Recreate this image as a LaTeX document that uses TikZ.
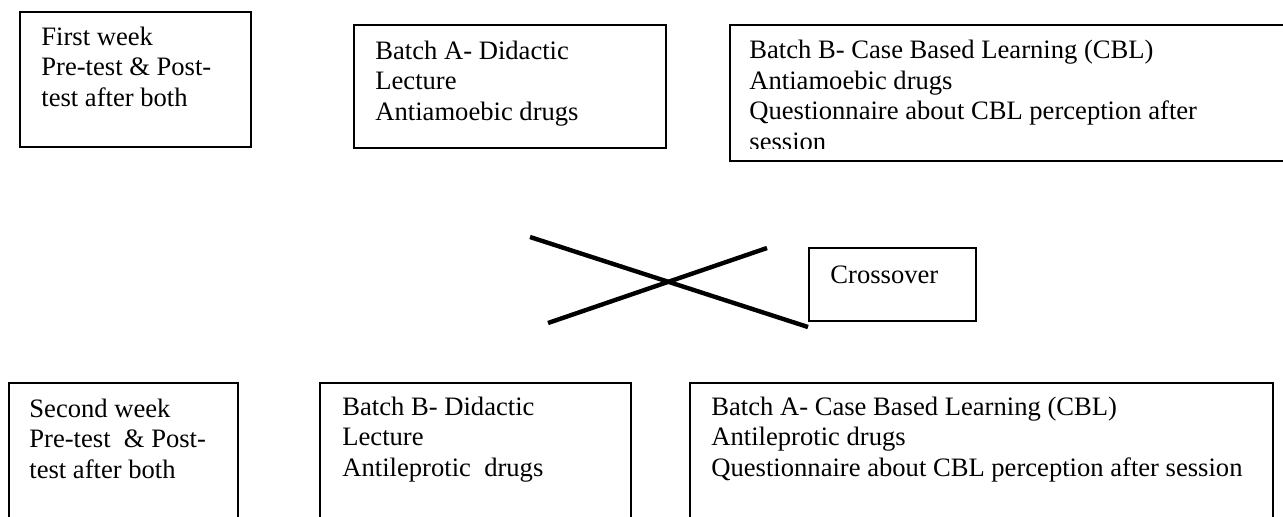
\documentclass[tikz,border=0pt]{standalone}
\usepackage{fontspec}
\setmainfont{Liberation Serif}
\begin{document}
\begin{tikzpicture}[x=0.5pt,y=-0.5pt,
	box/.style={draw,line width=1.2pt},
	thinbox/.style={draw,line width=0.8pt},
	crossline/.style={line width=2.2pt},
	txt/.style={anchor=base west,align=left,inner sep=0pt,font=\fontsize{13.3}{15.2}\selectfont}]
		\useasboundingbox (0,0) rectangle (1283,516);
		\clip (0,0) rectangle (1283,516);

		% first week (text nodes sit on their last line)
		\draw[box] (20,12) rectangle (251,147);
		\draw[box] (354,25) rectangle (666,148);
		\draw[box] (730,25) rectangle (1300,161);

		\node[txt] (wa) at (41,106) {First week\\Pre-test \& Post-\\test after both};
		\node[txt] (da) at (375,120) {Batch A- Didactic\\Lecture\\Antiamoebic drugs};
		\begin{scope}
			\clip (730,25) rectangle (1300,148);
			\node[txt] (cb) at (749,150) {Batch B- Case Based Learning (CBL)\\Antiamoebic drugs\\Questionnaire about CBL perception after\\session};
		\end{scope}

		% crossover
		\coordinate (x1) at (530,237);
		\coordinate (x2) at (808,327);
		\coordinate (x3) at (548,323);
		\coordinate (x4) at (767,248);
		\draw[crossline] (x1) -- (x2);
		\draw[crossline] (x3) -- (x4);

		\draw[thinbox] (809,248) rectangle (976,321);
		\node[txt] (co) at (830,283) {Crossover};

		% second week
		\draw[box] (9,383) rectangle (238,540);
		\draw[box] (320,383) rectangle (631,540);
		\draw[box] (690,383) rectangle (1273,540);

		\node[txt] (wb) at (29,478) {Second week\\Pre-test\ \ \& Post-\\test after both};
		\node[txt] (db) at (342,476) {Batch B- Didactic\\Lecture\\Antileprotic\ \ drugs};
		\node[txt] (ca) at (711,476) {Batch A- Case Based Learning (CBL)\\Antileprotic drugs\\Questionnaire about CBL perception after session};
	\end{tikzpicture}
\end{document}
